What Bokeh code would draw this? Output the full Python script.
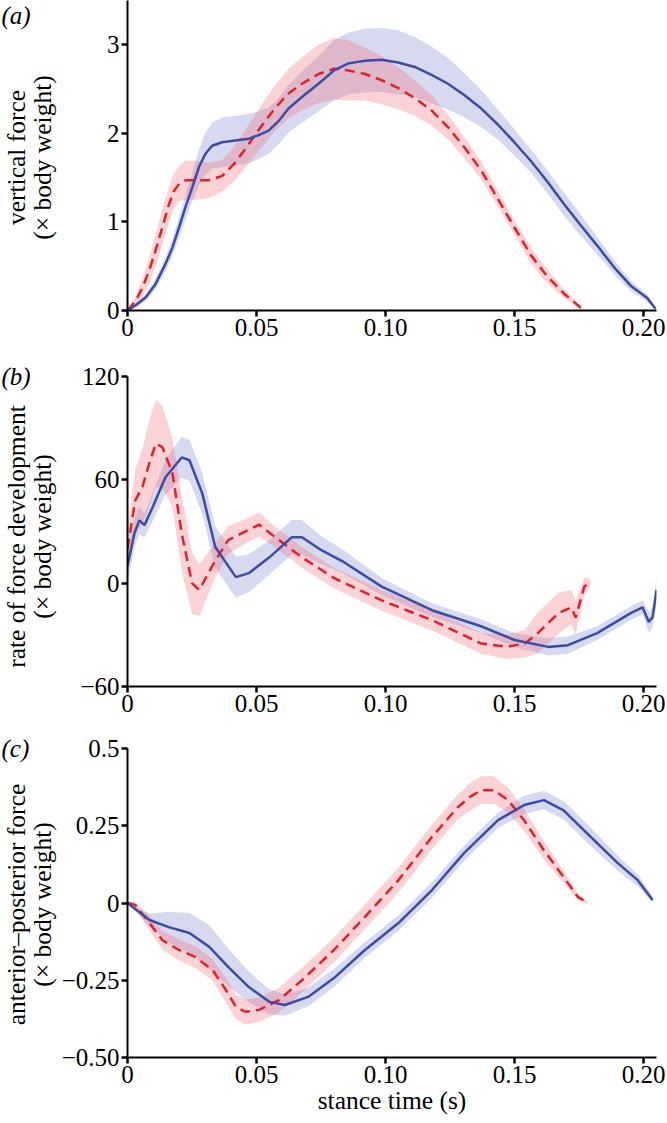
import numpy as np
from bokeh.plotting import figure
from bokeh.models import Range1d, FixedTicker
from bokeh.layouts import column, row
from bokeh.core.properties import value
from bokeh.embed import file_html
from bokeh.resources import INLINE

FONT = "Liberation Serif"
TICK_SIZE = "25px"
TITLE_SIZE = "25.5px"
BLUE = "#3a4ca3"
RED = "#e2202a"
BLUE_BAND = "#5d67c4"
RED_BAND = "#f26a78"
LEFT_W = 58

x_ticks = [0, 0.05, 0.10, 0.15, 0.20]
x_tick_labels = ["0", "0.05", "0.10", "0.15", "0.20"]

# ---- panel (a): vertical force ----
a_blue_t = [0, 0.0032, 0.0071, 0.0109, 0.0148, 0.0174, 0.0200, 0.0225, 0.0251, 0.0277, 0.0302,
            0.0328, 0.0367, 0.0418, 0.0470, 0.0508, 0.0547, 0.0586, 0.0624, 0.0676, 0.0740,
            0.0800, 0.0856, 0.0920, 0.0985, 0.1049, 0.1113, 0.1178, 0.1242, 0.1306, 0.1371,
            0.1435, 0.1499, 0.1564, 0.1628, 0.1692, 0.1757, 0.1821, 0.1885, 0.1950, 0.2014, 0.2046]
a_blue_m = [0, 0.06, 0.15, 0.30, 0.53, 0.71, 0.94, 1.17, 1.39, 1.62, 1.77,
            1.86, 1.90, 1.92, 1.94, 1.98, 2.03, 2.14, 2.28, 2.41, 2.56,
            2.71, 2.79, 2.82, 2.83, 2.80, 2.75, 2.66, 2.56, 2.43, 2.28,
            2.10, 1.90, 1.685, 1.45, 1.20, 0.96, 0.73, 0.49, 0.28, 0.14, 0.02]
a_blue_s = [0, 0.02, 0.04, 0.06, 0.08, 0.1, 0.12, 0.14, 0.16, 0.2, 0.24,
            0.26, 0.28, 0.28, 0.28, 0.27, 0.26, 0.26, 0.27, 0.29, 0.31,
            0.34, 0.35, 0.36, 0.36, 0.36, 0.34, 0.32, 0.29, 0.25, 0.21,
            0.17, 0.15, 0.13, 0.13, 0.13, 0.12, 0.1, 0.08, 0.06, 0.04, 0.01]
a_red_t = [0, 0.0032, 0.0058, 0.0084, 0.0109, 0.0135, 0.0161, 0.0180, 0.0200, 0.0225, 0.0264,
           0.0315, 0.0367, 0.0418, 0.0470, 0.0521, 0.0573, 0.0624, 0.0676, 0.0740, 0.0800,
           0.0856, 0.0920, 0.0985, 0.1049, 0.1113, 0.1178, 0.1242, 0.1306, 0.1371, 0.1435,
           0.1499, 0.1564, 0.1628, 0.1692, 0.1757]
a_red_m = [0, 0.11, 0.26, 0.45, 0.68, 0.94, 1.20, 1.35, 1.43, 1.47, 1.47,
           1.47, 1.52, 1.67, 1.88, 2.09, 2.29, 2.45, 2.56, 2.67, 2.73,
           2.71, 2.67, 2.60, 2.51, 2.40, 2.26, 2.07, 1.84, 1.58, 1.26,
           0.94, 0.62, 0.38, 0.19, 0.03]
a_red_s = [0.02, 0.05, 0.1, 0.15, 0.18, 0.2, 0.2, 0.2, 0.2, 0.22, 0.22,
           0.2, 0.18, 0.2, 0.22, 0.24, 0.26, 0.28, 0.3, 0.33, 0.35,
           0.34, 0.3, 0.27, 0.24, 0.2, 0.17, 0.14, 0.12, 0.1, 0.09,
           0.08, 0.09, 0.08, 0.05, 0.02]

# ---- panel (b): rate of force development ----
b_blue_t = [0, 0.0027, 0.0046, 0.0066, 0.0097, 0.0147, 0.021, 0.024, 0.029, 0.034, 0.042, 0.047,
            0.055, 0.0637, 0.0676, 0.0753, 0.083, 0.0985, 0.118, 0.137, 0.15, 0.163, 0.1707,
            0.182, 0.195, 0.1996, 0.202, 0.2035, 0.205]
b_blue_m = [10, 29, 36.5, 33.7, 44, 61.5, 73, 71.4, 52, 21, 3.5, 5.8,
            15, 26.7, 26.7, 19, 13, -2, -15.7, -25, -33, -37, -36,
            -29, -17.4, -14, -22.6, -19.7, -4]
b_blue_s = [10, 8, 8, 7, 8, 10, 12, 12, 12, 12, 12, 11,
            10, 10, 10, 8, 7, 5, 4, 4, 4, 5, 5,
            4, 4, 4, 6, 6, 8]
b_red_t = [0, 0.003, 0.0058, 0.0085, 0.011, 0.0135, 0.0174, 0.021, 0.025, 0.0278, 0.034, 0.039,
           0.047, 0.051, 0.057, 0.0676, 0.080, 0.0985, 0.118, 0.137, 0.147, 0.154, 0.159,
           0.167, 0.172, 0.1737, 0.177, 0.1795]
b_red_m = [20, 48, 56, 70, 81, 79, 64, 29, 0, -4, 13, 25,
           31, 34, 27, 15, 3, -10, -21.5, -35, -37, -35, -29,
           -17.4, -14, -20, -2, 0.6]
b_red_s = [12, 18, 22, 25, 25, 24, 20, 22, 18, 15, 10, 8,
           7, 7, 6, 6, 6, 6, 6, 6, 7, 8, 12,
           12, 10, 10, 5, 2]

# ---- panel (c): anterior-posterior force ----
c_blue_t = [0, 0.0085, 0.016, 0.024, 0.0317, 0.039, 0.047, 0.055, 0.061, 0.070, 0.080, 0.092,
            0.105, 0.118, 0.1305, 0.1436, 0.1537, 0.1614, 0.169, 0.1795, 0.19, 0.1977, 0.2035]
c_blue_m = [0, -0.055, -0.078, -0.097, -0.142, -0.207, -0.272, -0.32, -0.33, -0.304, -0.243, -0.152,
            -0.065, 0.042, 0.162, 0.268, 0.317, 0.333, 0.30, 0.214, 0.129, 0.074, 0.01]
c_blue_s = [0, 0.02, 0.05, 0.065, 0.07, 0.06, 0.05, 0.04, 0.035, 0.03, 0.03, 0.025,
            0.025, 0.025, 0.025, 0.025, 0.03, 0.03, 0.03, 0.03, 0.025, 0.02, 0.01]
c_red_t = [0, 0.003, 0.0085, 0.0135, 0.02, 0.0263, 0.033, 0.038, 0.042, 0.0456, 0.051, 0.0587,
           0.0676, 0.080, 0.092, 0.105, 0.118, 0.128, 0.133, 0.137, 0.142, 0.1475, 0.1537, 0.1614,
           0.169, 0.1745, 0.1784]
c_red_m = [0, -0.006, -0.065, -0.12, -0.152, -0.175, -0.217, -0.28, -0.336, -0.352, -0.346, -0.314,
           -0.25, -0.152, -0.045, 0.074, 0.214, 0.31, 0.345, 0.365, 0.365, 0.333, 0.268, 0.17,
           0.084, 0.02, 0.0]
c_red_s = [0.005, 0.01, 0.025, 0.03, 0.035, 0.035, 0.035, 0.04, 0.04, 0.04, 0.04, 0.04,
           0.04, 0.04, 0.04, 0.04, 0.04, 0.04, 0.045, 0.045, 0.045, 0.04, 0.035, 0.03,
           0.02, 0.01, 0.005]

panel_letters = ["(a)", "(b)", "(c)"]
y_titles = [("vertical force", "(× body weight)"),
            ("rate of force development", "(× body weight)"),
            ("anterior\u2013posterior force", "(× body weight)")]
x_title = "stance time (s)"


def band(p, t, m, s, color, alpha):
    m = np.asarray(m, float)
    s = np.asarray(s, float)
    p.varea(x=t, y1=m - s, y2=m + s, fill_color=color, fill_alpha=alpha)


def make_panel(height, yr, yticks, ylabels, top, bottom, data, xtitle=None):
    p = figure(width=667 - LEFT_W, height=height, x_range=Range1d(0, 0.205), y_range=Range1d(*yr),
               output_backend="svg", toolbar_location=None,
               min_border_left=125 - LEFT_W, min_border_right=11,
               min_border_top=top, min_border_bottom=bottom)
    p.outline_line_color = None
    p.grid.visible = False
    p.axis.axis_line_color = "black"
    p.axis.axis_line_width = 2
    p.axis.major_tick_line_color = "black"
    p.axis.major_tick_line_width = 2.5
    p.axis.major_tick_out = 6
    p.axis.major_tick_in = 0
    p.axis.minor_tick_line_color = None
    p.axis.major_label_text_font = FONT
    p.axis.major_label_text_font_size = TICK_SIZE
    p.axis.major_label_text_color = "black"
    p.axis.major_label_standoff = 2
    p.xaxis.ticker = FixedTicker(ticks=x_ticks)
    p.xaxis.major_label_overrides = dict(zip(x_ticks, x_tick_labels))
    p.yaxis.ticker = FixedTicker(ticks=yticks)
    p.yaxis.major_label_overrides = dict(zip(yticks, ylabels))
    if xtitle:
        p.xaxis.axis_label = xtitle
        p.xaxis.axis_label_text_font = FONT
        p.xaxis.axis_label_text_font_size = TITLE_SIZE
        p.xaxis.axis_label_text_font_style = "normal"
        p.xaxis.axis_label_text_color = "black"
        p.xaxis.axis_label_standoff = 0

    (bt, bm, bs), (rt, rm, rs) = data
    band(p, bt, bm, bs, BLUE_BAND, 0.25)
    band(p, rt, rm, rs, RED_BAND, 0.3)
    p.line(rt, rm, line_color=RED, line_width=2.5, line_dash="10 6")
    p.line(bt, bm, line_color=BLUE, line_width=2.5)
    return p


pa = make_panel(352, (0, 3.5), [0, 1, 2, 3], ["0", "1", "2", "3"], 0, 42,
                ((a_blue_t, a_blue_m, a_blue_s), (a_red_t, a_red_m, a_red_s)))
pb = make_panel(370, (-60, 120), [-60, 0, 60, 120], ["\u221260", "0", "60", "120"], 24, 36,
                ((b_blue_t, b_blue_m, b_blue_s), (b_red_t, b_red_m, b_red_s)))
pc = make_panel(401, (-0.5, 0.5), [-0.5, -0.25, 0, 0.25, 0.5],
                ["\u22120.50", "\u22120.25", "0", "0.25", "0.5"], 26, 66,
                ((c_blue_t, c_blue_m, c_blue_s), (c_red_t, c_red_m, c_red_s)),
                xtitle=x_title)

# left strip with panel letters and y-axis titles (page pixel coordinates)
left = figure(width=LEFT_W, height=1123, x_range=Range1d(0, LEFT_W), y_range=Range1d(1123, 0),
              output_backend="svg", toolbar_location=None, x_axis_type=None, y_axis_type=None,
              min_border_left=0, min_border_right=0, min_border_top=0, min_border_bottom=0)
left.outline_line_color = None
left.grid.visible = False
left.text(x=[1, 1, 1], y=[15, 376, 748], text=panel_letters,
          text_font=value(FONT), text_font_style="italic", text_font_size=value(TICK_SIZE),
          text_color="black", text_align="left", text_baseline="middle")
centers = [157, 536, 904]
left.text(x=[16] * 3, y=centers, text=[t[0] for t in y_titles], angle=np.pi / 2,
          text_font=value(FONT), text_font_size=value(TITLE_SIZE), text_color="black",
          text_align="center", text_baseline="middle")
left.text(x=[42] * 3, y=centers, text=[t[1] for t in y_titles], angle=np.pi / 2,
          text_font=value(FONT), text_font_size=value(TITLE_SIZE), text_color="black",
          text_align="center", text_baseline="middle")

layout = row(left, column(pa, pb, pc, spacing=0), spacing=0)
open("out.html", "w").write(file_html(layout, INLINE))
